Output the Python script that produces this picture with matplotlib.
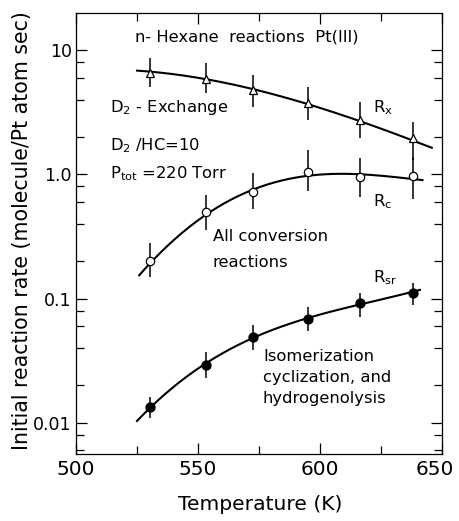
import numpy as np
import matplotlib
matplotlib.use("Agg")
import matplotlib.pyplot as plt
from matplotlib.ticker import FixedLocator, NullFormatter
from matplotlib.transforms import ScaledTranslation

plt.rcParams['font.family'] = ['DejaVu Sans']
plt.rcParams['mathtext.fontset'] = 'dejavusans'

# ---- data ----
temperature = [530.5, 553.3, 572.4, 595.0, 616.3, 638.0]

rx = [6.58, 5.82, 4.77, 3.73, 2.74, 1.95]
rx_lo = [5.07, 4.49, 3.50, 2.74, 1.95, 1.30]
rx_hi = [8.59, 7.92, 6.30, 5.07, 3.84, 2.65]

rc = [0.201, 0.50, 0.716, 1.05, 0.956, 0.974]
rc_lo = [0.150, 0.356, 0.523, 0.738, 0.66, 0.629]
rc_hi = [0.281, 0.681, 1.02, 1.57, 1.35, 1.39]

rsr = [0.01345, 0.0292, 0.0492, 0.0684, 0.0914, 0.110]
rsr_lo = [0.01084, 0.0228, 0.0385, 0.0551, 0.0714, 0.0887]
rsr_hi = [0.0162, 0.0373, 0.0612, 0.0859, 0.1114, 0.134]

# hand-drawn trend curves, sampled from the figure
rx_curve_t = [525, 531.6, 553.8, 573, 594.3, 615.9, 637.6, 645.8]
rx_curve = [6.79, 6.70, 5.93, 4.71, 3.73, 2.70, 1.91, 1.62]
rc_curve_t = [525.9, 530.6, 553.3, 572.3, 595.2, 616.8, 638.6, 642]
rc_curve = [0.152, 0.198, 0.470, 0.748, 0.987, 0.987, 0.929, 0.888]
rsr_curve_t = [525, 530, 553, 572, 595.5, 616, 641]
rsr_curve = [0.0101, 0.0134, 0.0292, 0.049, 0.068, 0.091, 0.117]

x_ticks = [500, 550, 600, 650]
y_ticks = [0.01, 0.1, 1.0, 10]
y_ticklabels = ["0.01", "0.1", "1.0", "10"]

# ---- figure ----
fig = plt.figure(figsize=(4.6, 5.21), dpi=100)
ax = fig.add_axes([76 / 460, 1 - 454 / 521, (442 - 76) / 460, (454 - 13) / 521])
ax.set_yscale('log')
ax.set_xlim(500, 650)
ax.set_ylim(0.0056, 19.9)


def smooth(tt, vv, deg):
    tt = np.asarray(tt, float)
    lv = np.log10(np.asarray(vv, float))
    c = np.polyfit(tt - 580, lv, deg)
    grid = np.linspace(tt.min(), tt.max(), 200)
    return grid, 10 ** np.polyval(c, grid - 580)


for ct, cv, deg in [(rx_curve_t, rx_curve, 3), (rc_curve_t, rc_curve, 4), (rsr_curve_t, rsr_curve, 3)]:
    g, s = smooth(ct, cv, deg)
    ax.plot(g, s, color='black', lw=1.5, zorder=2)


def err(v, lo, hi):
    v = np.asarray(v); return [v - np.asarray(lo), np.asarray(hi) - v]


ax.errorbar(temperature, rx, yerr=err(rx, rx_lo, rx_hi), fmt='^', ms=6,
            mfc='white', mec='black', mew=0.9, ecolor='black', elinewidth=1.1, capsize=0, zorder=3)
ax.errorbar(temperature, rc, yerr=err(rc, rc_lo, rc_hi), fmt='o', ms=6,
            mfc='white', mec='black', mew=0.9, ecolor='black', elinewidth=1.1, capsize=0, zorder=3)
ax.errorbar(temperature, rsr, yerr=err(rsr, rsr_lo, rsr_hi), fmt='o', ms=6.5,
            mfc='black', mec='black', mew=0.9, ecolor='black', elinewidth=1.1, capsize=0, zorder=3)

# ticks
ax.xaxis.set_major_locator(FixedLocator(x_ticks))
ax.xaxis.set_minor_locator(FixedLocator([525, 575, 625]))
ax.yaxis.set_major_locator(FixedLocator(y_ticks))
ax.set_yticklabels(y_ticklabels)
minor_y = [m * d for d in (0.001, 0.01, 0.1, 1, 10) for m in (2, 4, 6, 8)]
ax.yaxis.set_minor_locator(FixedLocator(minor_y))
ax.yaxis.set_minor_formatter(NullFormatter())
ax.tick_params(which='both', direction='in', top=True, right=True, width=0.9)
ax.tick_params(which='major', length=8)
ax.tick_params(which='minor', length=5.5)
ax.tick_params(axis='x', labelsize=14.5, pad=4)
ax.tick_params(axis='y', labelsize=12.5, pad=3)
for sp in ax.spines.values():
    sp.set_linewidth(0.9)

# nudge the last x tick label inside the canvas, as in the reference
last = ax.xaxis.get_major_ticks()[-1].label1
last.set_transform(last.get_transform() + ScaledTranslation(-5 / 72, 0, fig.dpi_scale_trans))

# annotations
fs = 11.8
ax.text(524.2, 12.7, "n- Hexane  reactions  Pt(III)", fontsize=fs, ha='left', va='center')
ax.text(513.9, 3.42, "D$_2$ - Exchange", fontsize=fs, ha='left', va='center')
ax.text(513.9, 1.69, "D$_2$ /HC=10", fontsize=fs, ha='left', va='center')
ax.text(513.9, 1.02, "P$_{\\mathrm{tot}}$ =220 Torr", fontsize=fs, ha='left', va='center')
ax.text(621.7, 3.42, "R$_\\mathrm{x}$", fontsize=fs, ha='left', va='center')
ax.text(621.7, 0.598, "R$_\\mathrm{c}$", fontsize=fs, ha='left', va='center')
ax.text(621.7, 0.146, "R$_\\mathrm{sr}$", fontsize=fs, ha='left', va='center')
ax.text(556.1, 0.313, "All conversion", fontsize=fs, ha='left', va='center')
ax.text(556.1, 10 ** ((174.3 - 262) / 124.2), "reactions", fontsize=fs, ha='left', va='center')
for ypix, line in [(356, "Isomerization"), (377, "cyclization, and"), (398, "hydrogenolysis")]:
    ax.text(576.6, 10 ** ((174.3 - ypix) / 124.2), line, fontsize=fs, ha='left', va='center')

fig.text(22 / 460, 1 - 231 / 521, "Initial reaction rate (molecule/Pt atom sec)",
         rotation=90, ha='center', va='center', fontsize=14.8)
fig.text(260 / 460, 1 - 505 / 521, "Temperature (K)", ha='center', va='center', fontsize=14.6)

fig.savefig("out.png", dpi=100)
